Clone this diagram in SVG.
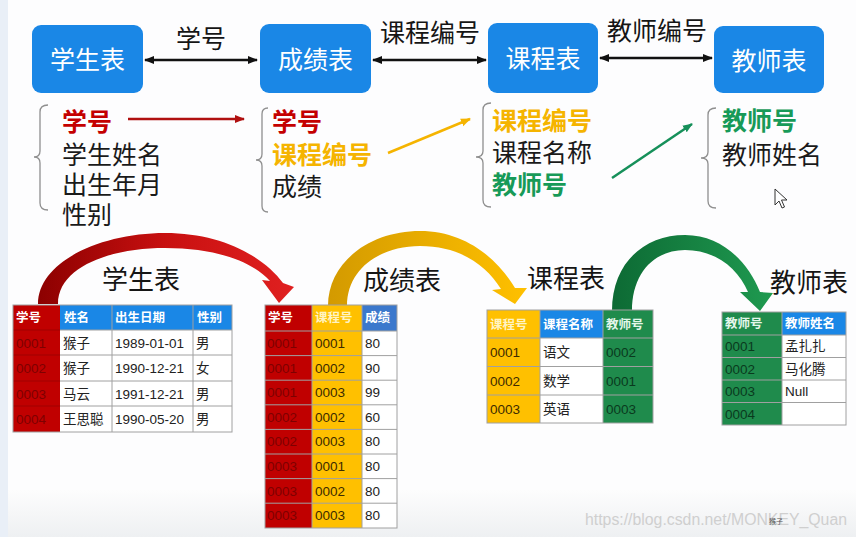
<svg xmlns="http://www.w3.org/2000/svg" width="856" height="537" viewBox="0 0 856 537">
<defs>
<style>
.box{fill:#1a87e6}
.boxt{font-family:"Noto Sans CJK SC","Noto Sans",sans-serif;font-size:25px;fill:#fff;text-anchor:middle}
.lbl{font-family:"Noto Sans CJK SC","Noto Sans",sans-serif;font-size:25px;fill:#151515;text-anchor:middle}
.big{font-family:"Noto Sans CJK SC","Noto Sans",sans-serif;font-size:26px;fill:#151515}
.fld{font-family:"Noto Sans CJK SC","Noto Sans",sans-serif;font-size:25px;fill:#1a1a1a}
.b{font-weight:bold}
.red{fill:#c40000}
.gold{fill:#f5b400}
.grn{fill:#179a58}
.brace{fill:none;stroke:#8f8f8f;stroke-width:1.3}
.conn{stroke:#111;stroke-width:2.5;fill:none}
.th{font-family:"Noto Sans CJK SC","Noto Sans",sans-serif;font-size:12.5px;font-weight:bold}
.td{font-family:"Liberation Sans","Noto Sans CJK SC",sans-serif;font-size:13.5px;fill:#222}
.grid{stroke:#a0a0a0;stroke-width:1;fill:none}
.cred{fill:#c00000}
.cgold{fill:#ffc000}
.cgrn{fill:#1f8b4c}
.cblue{fill:#1a87e6}
.tred{fill:#7e0000}
.tgold{fill:#3d2b00}
.tgrn{fill:#0a3a1e}
</style>
<marker id="ah" viewBox="0 0 10 10" refX="9" refY="5" markerWidth="4" markerHeight="4" orient="auto-start-reverse"><path d="M0,1 L10,5 L0,9 z" fill="#111"/></marker>
<marker id="ahr" viewBox="0 0 10 10" refX="9" refY="5" markerWidth="4" markerHeight="4" orient="auto"><path d="M0,1 L10,5 L0,9 z" fill="#b01010"/></marker>
<marker id="ahy" viewBox="0 0 10 10" refX="9" refY="5" markerWidth="4" markerHeight="4" orient="auto"><path d="M0,1 L10,5 L0,9 z" fill="#f5b400"/></marker>
<marker id="ahg" viewBox="0 0 10 10" refX="9" refY="5" markerWidth="4" markerHeight="4" orient="auto"><path d="M0,1 L10,5 L0,9 z" fill="#16905a"/></marker>
<linearGradient id="gr" x1="0" y1="0" x2="1" y2="0"><stop offset="0" stop-color="#8c0000"/><stop offset="0.5" stop-color="#c81010"/><stop offset="1" stop-color="#e02020"/></linearGradient>
<linearGradient id="gy" x1="0" y1="0" x2="1" y2="0"><stop offset="0" stop-color="#d39a00"/><stop offset="1" stop-color="#ffc000"/></linearGradient>
<linearGradient id="gg" x1="0" y1="0" x2="1" y2="0"><stop offset="0" stop-color="#0d6a34"/><stop offset="1" stop-color="#1f9a50"/></linearGradient>
<linearGradient id="bot" x1="0" y1="0" x2="0" y2="1"><stop offset="0" stop-color="#fdfdfd"/><stop offset="1" stop-color="#eef0f2"/></linearGradient>
</defs>

<rect width="856" height="537" fill="#fdfdfe"/>
<rect x="0" y="490" width="856" height="47" fill="url(#bot)"/>
<rect x="0" y="0" width="8" height="537" fill="#e9eff7"/>

<g id="connectors">
<line class="conn" x1="145" y1="60" x2="257" y2="60" marker-start="url(#ah)" marker-end="url(#ah)"/>
<line class="conn" x1="373" y1="60" x2="486" y2="60" marker-start="url(#ah)" marker-end="url(#ah)"/>
<line class="conn" x1="600" y1="58" x2="712" y2="58" marker-start="url(#ah)" marker-end="url(#ah)"/>
<text class="lbl" x="201" y="48">学号</text>
<text class="lbl" x="430" y="42">课程编号</text>
<text class="lbl" x="657" y="40">教师编号</text>
<line x1="128" y1="119" x2="244" y2="119" stroke="#b01010" stroke-width="2.5" marker-end="url(#ahr)"/>
<line x1="388" y1="153" x2="470" y2="119" stroke="#f5b400" stroke-width="2.5" marker-end="url(#ahy)"/>
<line x1="612" y1="178" x2="692" y2="124" stroke="#16905a" stroke-width="2.5" marker-end="url(#ahg)"/>
<path d="M 38 304 C 38 262 100 233 165 233 C 220 233 262 255 283 283 L 294 287 L 279 303 L 262 280 L 270 281 C 252 261 215 248 165 248 C 112 248 58 266 58 304 Z" fill="url(#gr)"/>
<path d="M 328 306 C 328 262 370 231 420 231 C 465 231 497 258 515 288 L 527 288 L 515 304 L 492 290 L 501 289 C 486 265 460 246 420 246 C 381 246 347 268 347 306 Z" fill="url(#gy)"/>
<path d="M 612 311 C 612 262 645 235 685 235 C 722 235 748 262 760 292 L 773 293 L 760 311 L 740 292 L 748 292 C 738 268 715 250 685 250 C 655 250 632 272 632 311 Z" fill="url(#gg)"/>
</g>

<g id="node-student">
<rect class="box" x="32" y="25" width="111" height="68" rx="9"/>
<text class="boxt" x="87.5" y="69">学生表</text>
</g>
<g id="node-score">
<rect class="box" x="260" y="24" width="111" height="69" rx="9"/>
<text class="boxt" x="315.5" y="69">成绩表</text>
</g>
<g id="node-course">
<rect class="box" x="488" y="23" width="110" height="70" rx="9"/>
<text class="boxt" x="543" y="68">课程表</text>
</g>
<g id="node-teacher">
<rect class="box" x="714" y="26" width="110" height="67" rx="9"/>
<text class="boxt" x="769" y="70">教师表</text>
</g>

<g id="fields-student">
<path class="brace" d="M 48 105 Q 40 105 40 112 L 40 151 Q 40 157 34 157 Q 40 157 40 163 L 40 203 Q 40 210 48 210"/>
<text class="fld b red" x="62" y="131">学号</text>
<text class="fld" x="62" y="164">学生姓名</text>
<text class="fld" x="62" y="194">出生年月</text>
<text class="fld" x="62" y="224">性别</text>
</g>
<g id="fields-score">
<path class="brace" d="M 268 108 Q 262 108 262 114 L 262 154 Q 262 160 256 160 Q 262 160 262 166 L 262 206 Q 262 212 268 212"/>
<text class="fld b red" x="272" y="131">学号</text>
<text class="fld b gold" x="272" y="164">课程编号</text>
<text class="fld" x="272" y="196">成绩</text>
</g>
<g id="fields-course">
<path class="brace" d="M 491 103 Q 483 103 483 110 L 483 151 Q 483 157 476 157 Q 483 157 483 163 L 483 200 Q 483 207 491 207"/>
<text class="fld b gold" x="492" y="130">课程编号</text>
<text class="fld" x="492" y="162">课程名称</text>
<text class="fld b grn" x="492" y="194">教师号</text>
</g>
<g id="fields-teacher">
<path class="brace" d="M 716 108 Q 708 108 708 115 L 708 152 Q 708 158 701 158 Q 708 158 708 164 L 708 201 Q 708 208 716 208"/>
<text class="fld b grn" x="722" y="130">教师号</text>
<text class="fld" x="722" y="164">教师姓名</text>
</g>

<path d="M 775 189 L 775 205 L 779 201 L 782 208 L 784.5 207 L 781.5 200 L 787 200 Z" fill="#fff" stroke="#333" stroke-width="1"/>

<g id="table-student">
<text class="big" x="102" y="289">学生表</text>
<rect class="cred" x="13" y="305" width="47" height="127"/>
<rect class="cblue" x="60" y="305" width="172" height="25"/>
<rect x="60" y="330" width="172" height="102" fill="#fff"/>
<path class="grid" d="M60 355 H232 M60 381 H232 M60 406 H232 M112 305 V432 M193 305 V432 M60 330 H232"/>
<path d="M13 330 H60 M13 355 H60 M13 381 H60 M13 406 H60" stroke="#a00000" stroke-width="1"/>
<rect class="grid" x="13" y="305" width="219" height="127"/>
<text class="th" fill="#fff" x="16" y="322">学号</text>
<text class="th" fill="#fff" x="64" y="322">姓名</text>
<text class="th" fill="#fff" x="115" y="322">出生日期</text>
<text class="th" fill="#fff" x="197" y="322">性别</text>
<text class="td tred" x="16" y="347.5">0001</text>
<text class="td tred" x="16" y="373">0002</text>
<text class="td tred" x="16" y="398.5">0003</text>
<text class="td tred" x="16" y="424">0004</text>
<text class="td" x="63" y="347.5">猴子</text>
<text class="td" x="63" y="373">猴子</text>
<text class="td" x="63" y="398.5">马云</text>
<text class="td" x="63" y="424">王思聪</text>
<text class="td" x="115" y="347.5">1989-01-01</text>
<text class="td" x="115" y="373">1990-12-21</text>
<text class="td" x="115" y="398.5">1991-12-21</text>
<text class="td" x="115" y="424">1990-05-20</text>
<text class="td" x="196" y="347.5">男</text>
<text class="td" x="196" y="373">女</text>
<text class="td" x="196" y="398.5">男</text>
<text class="td" x="196" y="424">男</text>
</g>

<g id="table-score">
<text class="big" x="363" y="290">成绩表</text>
<rect class="cred" x="265" y="305" width="47" height="223"/>
<rect class="cgold" x="312" y="305" width="50" height="223"/>
<rect x="362" y="305" width="35" height="26" fill="#3b78cc"/>
<rect x="362" y="331" width="35" height="197" fill="#fff"/>
<path class="grid" d="M265 331 H397 M265 355.6 H397 M265 380.2 H397 M265 404.8 H397 M265 429.4 H397 M265 454 H397 M265 478.6 H397 M265 503.2 H397 M312 305 V528 M362 305 V528"/>
<rect class="grid" x="265" y="305" width="132" height="223"/>
<text class="th" fill="#fff" x="268" y="322">学号</text>
<text class="th" fill="#fff4c4" x="315" y="322">课程号</text>
<text class="th" fill="#fff" x="365" y="322">成绩</text>
<g class="td tred">
<text x="267" y="348">0001</text><text x="267" y="372.6">0001</text><text x="267" y="397.2">0001</text><text x="267" y="421.8">0002</text>
<text x="267" y="446.4">0002</text><text x="267" y="471">0003</text><text x="267" y="495.6">0003</text><text x="267" y="520.2">0003</text>
</g>
<g class="td tgold">
<text x="315" y="348">0001</text><text x="315" y="372.6">0002</text><text x="315" y="397.2">0003</text><text x="315" y="421.8">0002</text>
<text x="315" y="446.4">0003</text><text x="315" y="471">0001</text><text x="315" y="495.6">0002</text><text x="315" y="520.2">0003</text>
</g>
<g class="td">
<text x="365" y="348">80</text><text x="365" y="372.6">90</text><text x="365" y="397.2">99</text><text x="365" y="421.8">60</text>
<text x="365" y="446.4">80</text><text x="365" y="471">80</text><text x="365" y="495.6">80</text><text x="365" y="520.2">80</text>
</g>
</g>

<g id="table-course">
<text class="big" x="527" y="288">课程表</text>
<rect class="cgold" x="487" y="310" width="53" height="113"/>
<rect class="cblue" x="540" y="310" width="63" height="28"/>
<rect x="540" y="338" width="63" height="85" fill="#fff"/>
<rect class="cgrn" x="603" y="310" width="50" height="113"/>
<path class="grid" d="M487 338 H653 M487 366.5 H653 M487 395 H653 M540 310 V423 M603 310 V423"/>
<rect class="grid" x="487" y="310" width="166" height="113"/>
<text class="th" fill="#fff4c4" x="490" y="329">课程号</text>
<text class="th" fill="#fff" x="543" y="329">课程名称</text>
<text class="th" fill="#e3f6ea" x="606" y="329">教师号</text>
<g class="td tgold"><text x="490" y="357">0001</text><text x="490" y="385.5">0002</text><text x="490" y="414">0003</text></g>
<g class="td"><text x="543" y="357">语文</text><text x="543" y="385.5">数学</text><text x="543" y="414">英语</text></g>
<g class="td tgrn"><text x="606" y="357">0002</text><text x="606" y="385.5">0001</text><text x="606" y="414">0003</text></g>
</g>

<g id="table-teacher">
<text class="big" x="770" y="292">教师表</text>
<rect class="cgrn" x="722" y="312" width="60" height="113"/>
<rect class="cblue" x="782" y="312" width="64" height="23"/>
<rect x="782" y="335" width="64" height="90" fill="#fff"/>
<path class="grid" d="M722 335 H846 M722 357.5 H846 M722 380 H846 M722 402.5 H846 M782 312 V425"/>
<rect class="grid" x="722" y="312" width="124" height="113"/>
<text class="th" fill="#e3f6ea" x="725" y="328">教师号</text>
<text class="th" fill="#fff" x="785" y="328">教师姓名</text>
<g class="td tgrn"><text x="725" y="351">0001</text><text x="725" y="373.5">0002</text><text x="725" y="396">0003</text><text x="725" y="418.5">0004</text></g>
<g class="td"><text x="785" y="351">孟扎扎</text><text x="785" y="373.5">马化腾</text><text x="785" y="396">Null</text></g>
</g>

<text x="585" y="525" font-family="'Liberation Sans',sans-serif" font-size="16" fill="#cfcfcf" textLength="262" lengthAdjust="spacingAndGlyphs">https://blog.csdn.net/MONKEY_Quan</text>
<text x="769" y="524" font-family="'Noto Sans CJK SC',sans-serif" font-size="7" fill="#555">猴子</text>
</svg>
